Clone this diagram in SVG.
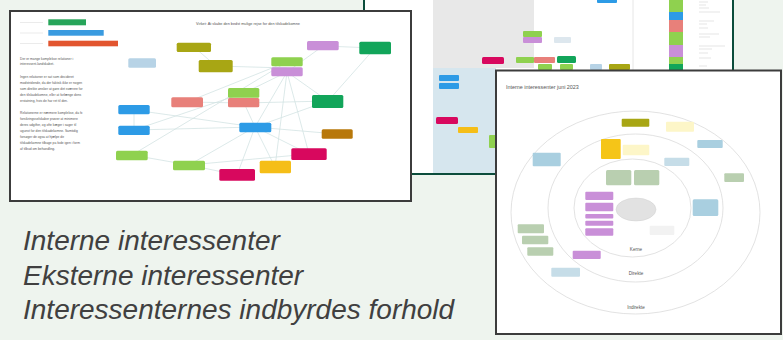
<svg xmlns="http://www.w3.org/2000/svg" width="783" height="340" viewBox="0 0 783 340">
  <style>
    .bg { fill: #eef4ee; }
    .sheet { fill: #ffffff; }
    .frame-dark { fill: none; stroke: #3c3c3c; stroke-width: 2; }
    .frame-green { fill: #ffffff; stroke: #0c4d3c; stroke-width: 2; }
    .node { stroke: none; }
    .edge { stroke: #d3e3e3; stroke-width: 0.8; fill: none; }
    .ring { fill: none; stroke: #d6d6d6; stroke-width: 0.7; }
    .tiny { font-family: "Liberation Sans", Arial, sans-serif; fill: #555; }
    .caption { font-family: "Liberation Sans", Arial, sans-serif; font-style: italic; font-size: 28px; fill: #404040; }
  </style>

  <rect class="bg" x="0" y="0" width="783" height="340"/>

  <!-- Back sheet: overview board -->
  <g id="board-sheet">
    <rect class="frame-green" x="364" y="-4" width="369" height="178"/>
    <rect x="433" y="0" width="101" height="68" fill="#e8e8e8"/>
    <rect x="433" y="68" width="63" height="105" fill="#d6e6ee"/>
    <line x1="633" y1="0" x2="633" y2="72" stroke="#e0e0e0" stroke-width="0.8"/>
    <!-- board stickies -->
    <rect class="node" x="597" y="-2" width="20" height="5" rx="1" fill="#2d9be6"/>
    <rect class="node" x="523" y="31" width="19" height="6" rx="1" fill="#8fd14f"/>
    <rect class="node" x="523" y="37" width="19" height="6" rx="1" fill="#c98fd8"/>
    <rect class="node" x="554" y="37" width="17" height="6" rx="1" fill="#dde7ee" stroke="#c4d2dc" stroke-width="0.4"/>
    <rect class="node" x="482" y="57" width="22" height="7" rx="1.5" fill="#d8085e"/>
    <rect class="node" x="516" y="57" width="18" height="6" rx="1" fill="#8fd14f"/>
    <rect class="node" x="534" y="57" width="21" height="6" rx="1" fill="#e8807a"/>
    <rect class="node" x="557" y="56" width="19" height="7" rx="1.5" fill="#12a55a"/>
    <rect class="node" x="538" y="64" width="14" height="6" rx="1" fill="#8fd14f"/>
    <rect class="node" x="560" y="64" width="13" height="6" rx="1" fill="#8fd14f"/>
    <rect class="node" x="590" y="64" width="12" height="6" rx="1" fill="#b7d3e6"/>
    <rect class="node" x="609" y="64" width="21" height="6" rx="1" fill="#a8a614"/>
    <rect class="node" x="439" y="75" width="20" height="6" rx="1" fill="#2d9be6"/>
    <rect class="node" x="439" y="83" width="20" height="6" rx="1" fill="#2d9be6"/>
    <rect class="node" x="436" y="117" width="22" height="7" rx="1.5" fill="#d8085e"/>
    <rect class="node" x="458" y="127" width="20" height="6" rx="1" fill="#f5be18"/>
    <rect class="node" x="489" y="135" width="7" height="13" rx="1" fill="#8fd14f"/>
    <!-- colour-coded column -->
    <rect x="669" y="0" width="14" height="12" fill="#8fd14f"/>
    <rect x="669" y="12" width="14" height="8" fill="#2d9be6"/>
    <rect x="669" y="20" width="14" height="12" fill="#e8807a"/>
    <rect x="669" y="32" width="14" height="13" fill="#8fd14f"/>
    <rect x="669" y="45" width="14" height="12" fill="#c98fd8"/>
    <rect x="669" y="57" width="14" height="7" fill="#8fd14f"/>
    <rect x="669" y="64" width="14" height="8" fill="#12a55a"/>
    <g stroke="#d4d4d4" stroke-width="0.6">
      <line x1="699" y1="2" x2="708" y2="2"/><line x1="699" y1="5" x2="706" y2="5"/><line x1="699" y1="8" x2="709" y2="8"/>
      <line x1="699" y1="12" x2="720" y2="12"/><line x1="699" y1="21" x2="714" y2="21"/><line x1="699" y1="24" x2="707" y2="24"/>
      <line x1="699" y1="28" x2="708" y2="28"/><line x1="699" y1="34" x2="719" y2="34"/><line x1="699" y1="37" x2="710" y2="37"/>
      <line x1="699" y1="46" x2="725" y2="46"/><line x1="699" y1="49" x2="712" y2="49"/><line x1="699" y1="53" x2="708" y2="53"/>
      <line x1="699" y1="58" x2="711" y2="58"/><line x1="699" y1="66" x2="707" y2="66"/>
    </g>
  </g>

  <!-- Front-left sheet: relationship map -->
  <g id="relation-sheet">
    <rect class="sheet" x="10" y="11" width="401" height="190"/>
    <g id="legend">
      <g stroke="#dddddd" stroke-width="0.6">
        <line x1="20" y1="22.5" x2="43" y2="22.5"/>
        <line x1="20" y1="33" x2="43" y2="33"/>
        <line x1="20" y1="43.5" x2="43" y2="43.5"/>
      </g>
      <rect x="48.3" y="19.3" width="37.7" height="6" fill="#27a55a"/>
      <rect x="48.3" y="30" width="55.4" height="5.7" fill="#3a9be0"/>
      <rect x="48.3" y="40.7" width="69.7" height="5.6" fill="#e2552f"/>
    </g>
    <text class="tiny" x="248" y="24.5" font-size="3.8" text-anchor="middle">Virket: At skabe den bedst mulige rejse for den tilskadekomne</text>
    <g class="tiny" font-size="3.3">
      <text x="20" y="59.5">Der er mange komplekse relationer i</text>
      <text x="20" y="65.3">interessent-landskabet.</text>
      <text x="20" y="77.5">Ingen relationer er sat som decideret</text>
      <text x="20" y="83.5">modstridende, da der faktisk ikke er nogen</text>
      <text x="20" y="89.7">som direkte ønsker at gøre det sværere for</text>
      <text x="20" y="95.7">den tilskadekomne, eller at forlænge dens</text>
      <text x="20" y="101.5">erstatning, hvis de har ret til den.</text>
      <text x="20" y="114">Relationerne er nærmere komplekse, da fx</text>
      <text x="20" y="119.8">forsikringsselskaber prøver at minimere</text>
      <text x="20" y="125.8">deres udgifter, og ofte kæger i sager til</text>
      <text x="20" y="131.5">ugunst for den tilskadekomne. Samtidig</text>
      <text x="20" y="137.7">forsøger de også at hjælpe de</text>
      <text x="20" y="143.7">tilskadekomne tilbage på fode igen i form</text>
      <text x="20" y="149.7">af tilbud om behandling.</text>
    </g>

    <g id="map-edges">
      <line class="edge" x1="194" y1="47" x2="216" y2="66"/>
      <line class="edge" x1="216" y1="66" x2="287" y2="68"/>
      <line class="edge" x1="323" y1="46" x2="375" y2="48"/>
      <line class="edge" x1="323" y1="46" x2="287" y2="72"/>
      <line class="edge" x1="375" y1="48" x2="328" y2="101"/>
      <line class="edge" x1="287" y1="72" x2="328" y2="101"/>
      <line class="edge" x1="287" y1="72" x2="255" y2="127"/>
      <line class="edge" x1="287" y1="72" x2="309" y2="154"/>
      <line class="edge" x1="287" y1="72" x2="275" y2="167"/>
      <line class="edge" x1="287" y1="72" x2="244" y2="93"/>
      <line class="edge" x1="287" y1="62" x2="132" y2="155"/>
      <line class="edge" x1="287" y1="62" x2="187" y2="102"/>
      <line class="edge" x1="187" y1="102" x2="244" y2="103"/>
      <line class="edge" x1="244" y1="103" x2="328" y2="101"/>
      <line class="edge" x1="244" y1="103" x2="255" y2="127"/>
      <line class="edge" x1="134" y1="110" x2="134" y2="130"/>
      <line class="edge" x1="134" y1="110" x2="255" y2="127"/>
      <line class="edge" x1="134" y1="130" x2="255" y2="127"/>
      <line class="edge" x1="134" y1="130" x2="244" y2="93"/>
      <line class="edge" x1="255" y1="127" x2="328" y2="101"/>
      <line class="edge" x1="255" y1="127" x2="337" y2="134"/>
      <line class="edge" x1="255" y1="127" x2="309" y2="154"/>
      <line class="edge" x1="255" y1="127" x2="189" y2="165"/>
      <line class="edge" x1="255" y1="127" x2="275" y2="167"/>
      <line class="edge" x1="255" y1="127" x2="237" y2="175"/>
      <line class="edge" x1="132" y1="155" x2="189" y2="165"/>
      <line class="edge" x1="189" y1="165" x2="309" y2="154"/>
      <line class="edge" x1="189" y1="165" x2="237" y2="175"/>
    </g>

    <g id="map-nodes">
      <rect class="node" x="176.7" y="42.7" width="34.3" height="9.3" rx="1.5" fill="#a8a614"/>
      <rect class="node" x="128.3" y="58.3" width="27.7" height="9.4" rx="1.5" fill="#b7d3e6"/>
      <rect class="node" x="198.7" y="60" width="34" height="12.3" rx="1.5" fill="#a8a614"/>
      <rect class="node" x="307" y="41" width="31.7" height="9.3" rx="1.5" fill="#c98fd8"/>
      <rect class="node" x="359.3" y="41.7" width="31.7" height="12.6" rx="1.5" fill="#12a55a"/>
      <rect class="node" x="271.3" y="57.3" width="31.4" height="9" rx="1.5" fill="#8fd14f"/>
      <rect class="node" x="271.3" y="67.3" width="31.4" height="9" rx="1.5" fill="#c98fd8"/>
      <rect class="node" x="228" y="88" width="31.3" height="9.7" rx="1.5" fill="#8fd14f"/>
      <rect class="node" x="228" y="98" width="31.3" height="9.3" rx="1.5" fill="#e8807a"/>
      <rect class="node" x="171.3" y="97.3" width="31.7" height="10" rx="1.5" fill="#e8807a"/>
      <rect class="node" x="312" y="95" width="31.3" height="13" rx="1.5" fill="#12a55a"/>
      <rect class="node" x="118.3" y="105" width="31.4" height="9.3" rx="1.5" fill="#2d9be6"/>
      <rect class="node" x="118.3" y="125.7" width="31.4" height="9.3" rx="1.5" fill="#2d9be6"/>
      <rect class="node" x="239.3" y="122.7" width="32" height="9.6" rx="1.5" fill="#2d9be6"/>
      <rect class="node" x="321.7" y="129.3" width="31" height="9.4" rx="1.5" fill="#b8780a"/>
      <rect class="node" x="116" y="150.7" width="31.7" height="9.6" rx="1.5" fill="#8fd14f"/>
      <rect class="node" x="291.3" y="148.3" width="35.4" height="11.7" rx="1.5" fill="#d8085e"/>
      <rect class="node" x="173" y="160.7" width="32" height="9.6" rx="1.5" fill="#8fd14f"/>
      <rect class="node" x="259.7" y="160.7" width="31.3" height="12.6" rx="1.5" fill="#f5be18"/>
      <rect class="node" x="219.3" y="169" width="35.7" height="11.7" rx="1.5" fill="#d8085e"/>
    </g>
    <rect class="frame-dark" x="10" y="11" width="401" height="190"/>
  </g>

  <!-- Front-right sheet: internal stakeholders in rings -->
  <g id="rings-sheet">
    <rect class="sheet" x="496" y="70.5" width="285" height="263.5"/>
    <text class="tiny" x="506" y="88.5" font-size="5.4" fill="#666">Interne interessenter juni 2023</text>
    <ellipse class="ring" cx="635.5" cy="212.5" rx="124.5" ry="101.5"/>
    <ellipse class="ring" cx="635.5" cy="208" rx="87.5" ry="74"/>
    <ellipse class="ring" cx="632.5" cy="208" rx="58.5" ry="49"/>
    <ellipse cx="636" cy="209.5" rx="20" ry="11.5" fill="#e2e2e2" stroke="#cccccc" stroke-width="0.4"/>
    <g class="tiny" font-size="4.6" text-anchor="middle" fill="#555">
      <text x="636" y="250.5">Kerne</text>
      <text x="636" y="274.5">Direkte</text>
      <text x="636" y="308.5">Indirekte</text>
    </g>
    <g id="ring-nodes">
      <rect class="node" x="621.7" y="118.7" width="27.6" height="8" rx="1" fill="#a8a614"/>
      <rect class="node" x="666" y="121.7" width="28" height="10" rx="1" fill="#fdf6c8" stroke="#eadf9e" stroke-width="0.4"/>
      <rect class="node" x="601" y="139" width="19.7" height="20" rx="1" fill="#f5c518"/>
      <rect class="node" x="622.7" y="144.7" width="26.6" height="10.6" rx="1" fill="#fdf6c8" stroke="#eadf9e" stroke-width="0.4"/>
      <rect class="node" x="697.3" y="140" width="25.4" height="8" rx="1" fill="#a9cfe0"/>
      <rect class="node" x="532.7" y="152.7" width="28" height="13.6" rx="1" fill="#a9cfe0"/>
      <rect class="node" x="664.3" y="157.7" width="25" height="8.3" rx="1" fill="#c6dde8"/>
      <rect class="node" x="724.3" y="173.3" width="19.7" height="8.7" rx="1" fill="#b9cfb0"/>
      <rect class="node" x="606" y="170" width="25.3" height="15.3" rx="1.5" fill="#b9cfb0"/>
      <rect class="node" x="634" y="170" width="25.3" height="15.3" rx="1.5" fill="#b9cfb0"/>
      <rect class="node" x="585.3" y="191.7" width="28" height="8.3" rx="1" fill="#c98fd8"/>
      <rect class="node" x="585.3" y="202.7" width="28" height="8.6" rx="1" fill="#c98fd8"/>
      <rect class="node" x="585.3" y="214" width="28" height="4.5" rx="1" fill="#c98fd8"/>
      <rect class="node" x="585.3" y="220.7" width="28" height="5" rx="1" fill="#c98fd8"/>
      <rect class="node" x="585.3" y="228.3" width="28" height="7.4" rx="1" fill="#c98fd8"/>
      <rect class="node" x="692.7" y="199.3" width="25.6" height="16.7" rx="1.5" fill="#a9cfe0"/>
      <rect class="node" x="649.7" y="225.7" width="24.6" height="9.3" rx="1" fill="#f2f2f2" stroke="#cfcfcf" stroke-width="0.4"/>
      <rect class="node" x="517.7" y="224.3" width="26.3" height="9" rx="1" fill="#b9cfb0"/>
      <rect class="node" x="522" y="235.7" width="26.3" height="8.6" rx="1" fill="#b9cfb0"/>
      <rect class="node" x="527.3" y="247.3" width="26" height="8.4" rx="1" fill="#b9cfb0"/>
      <rect class="node" x="572.7" y="250.7" width="28" height="8.3" rx="1" fill="#c98fd8"/>
      <rect class="node" x="551.3" y="267.7" width="28.7" height="9" rx="1" fill="#c6dde8"/>
    </g>
    <rect class="frame-dark" x="496" y="70.5" width="285" height="263.5"/>
  </g>

  <!-- Captions -->
  <g id="captions">
    <text class="caption" x="23" y="250">Interne interessenter</text>
    <text class="caption" x="23" y="285">Eksterne interessenter</text>
    <text class="caption" x="23" y="319">Interessenternes indbyrdes forhold</text>
  </g>
</svg>
